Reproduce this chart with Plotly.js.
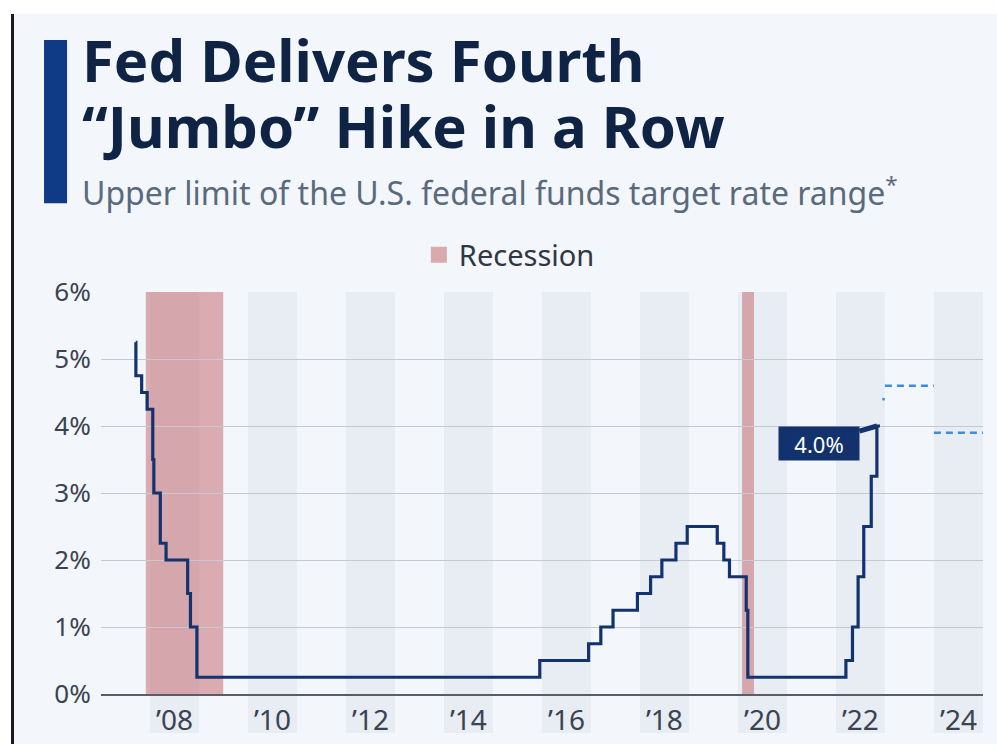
<!DOCTYPE html>
<html>
<head>
<meta charset="utf-8">
<script src="https://cdn.plot.ly/plotly-3.0.1.min.js"></script>
<style>
  html, body { margin: 0; padding: 0; background: #ffffff; width: 997px; height: 744px; overflow: hidden; }
  #frame { position: absolute; left: 11px; top: 14px; width: 986px; height: 730px; border-left: 3px solid #1a1a1a; background: #f3f6fa; }
  #chart { position: absolute; left: 0px; top: 0px; width: 983px; height: 730px; }
</style>
</head>
<body>
<div id="frame"><div id="chart"></div></div>
<script>
// ---- Data ----
var rateDates = ['2007-09-17','2007-09-18','2007-10-31','2007-12-11','2008-01-22','2008-01-30','2008-03-18','2008-04-30','2008-10-08','2008-10-29','2008-12-16','2015-12-16','2016-12-14','2017-03-15','2017-06-14','2017-12-13','2018-03-21','2018-06-13','2018-09-26','2018-12-19','2019-07-31','2019-09-18','2019-10-30','2020-03-03','2020-03-15','2022-03-16','2022-05-04','2022-06-15','2022-07-27','2022-09-21','2022-11-02','2022-11-25'];
var rateValues = [5.25,4.75,4.5,4.25,3.5,3.0,2.25,2.0,1.5,1.0,0.25,0.5,0.75,1.0,1.25,1.5,1.75,2.0,2.25,2.5,2.25,2.0,1.75,1.25,0.25,0.5,1.0,1.75,2.5,3.25,4.0,4.0];

var projDates = ['2022-12-12','2022-12-31',null,'2023-01-01','2023-12-31',null,'2024-01-01','2024-12-31'];
var projValues = [4.4,4.4,null,4.6,4.6,null,3.9,3.9];

var recessionStarts = ['2007-12-01','2020-02-01'];
var recessionEnds = ['2009-06-30','2020-04-30'];

var shadedYears = [2008,2010,2012,2014,2016,2018,2020,2022,2024];

var tickYears = [2008,2010,2012,2014,2016,2018,2020,2022,2024];
var tickLabels = ['\u201908','\u201910','\u201912','\u201914','\u201916','\u201918','\u201920','\u201922','\u201924'];

var yTicks = [0,1,2,3,4,5,6];
var yTickLabels = ['0%','1%','2%','3%','4%','5%','6%'];

var titleLine1 = 'Fed Delivers Fourth';
var titleLine2 = '\u201cJumbo\u201d Hike in a Row';
var subtitleText = 'Upper limit of the U.S. federal funds target rate range<sup>*</sup>';
var lastLabel = '4.0%';

// ---- Build ----
var FONT = 'Noto Sans, Open Sans, sans-serif';
var shapes = [];
shadedYears.forEach(function (y) {
  shapes.push({type: 'rect', layer: 'below', xref: 'x', yref: 'paper',
    x0: y + '-01-01', x1: (y + 1) + '-01-01', y0: -0.097, y1: 1,
    fillcolor: '#e8edf4', line: {width: 0}});
});
recessionStarts.forEach(function (s, i) {
  shapes.push({type: 'rect', layer: 'below', xref: 'x', yref: 'paper',
    x0: s, x1: recessionEnds[i], y0: 0, y1: 1,
    fillcolor: 'rgba(196,110,115,0.55)', line: {width: 0}});
});
// title accent bar
shapes.push({type: 'rect', xref: 'paper', yref: 'paper',
  x0: -0.0646, x1: -0.0385, y0: 1.221, y1: 1.627,
  fillcolor: '#0f3b86', line: {width: 0}});

var traces = [
  {x: [null], y: [null], type: 'scatter', mode: 'markers', name: 'Recession',
   marker: {symbol: 'square', size: 16, color: '#d8aaad'}, hoverinfo: 'skip'},
  {x: projDates, y: projValues, type: 'scatter', mode: 'lines', showlegend: false,
   connectgaps: false, line: {color: '#3b8ee2', width: 2.5, dash: '7px,5px'}},
  {x: rateDates, y: rateValues, type: 'scatter', mode: 'lines', showlegend: false,
   line: {color: '#13336f', width: 3.2, shape: 'hv'}}
];

var layout = {
  width: 983, height: 730,
  margin: {l: 87, r: 14, t: 278, b: 50},
  paper_bgcolor: '#f3f6fa', plot_bgcolor: 'rgba(0,0,0,0)',
  font: {family: FONT, color: '#3b4350'},
  title: {
    text: '<b>' + titleLine1 + '</b>',
    xref: 'container', yref: 'container', x: 0.0692, xanchor: 'left',
    y: 0.934, yanchor: 'middle',
    font: {family: FONT, size: 58, color: '#0f2444'}
  },
  showlegend: true,
  legend: {orientation: 'h', x: 0.463, xanchor: 'center', y: 1.092, yanchor: 'middle',
    font: {size: 29, color: '#2f3744'}, bgcolor: 'rgba(0,0,0,0)'},
  xaxis: {
    type: 'date', range: ['2007-01-01', '2025-01-01'],
    tickvals: tickYears.map(function (y) { return y + '-07-02'; }),
    ticktext: tickLabels,
    showgrid: false, zeroline: false,
    showline: true, linecolor: '#5a5e64', linewidth: 1.5,
    ticks: 'outside', ticklen: 1, tickcolor: 'rgba(0,0,0,0)',
    tickfont: {size: 28, color: '#3b4350'}, fixedrange: true
  },
  yaxis: {
    range: [0, 6], tickvals: yTicks, ticktext: yTickLabels,
    showgrid: true, gridcolor: '#c6cad0', gridwidth: 1, zeroline: false,
    ticks: 'outside', ticklen: 4, tickcolor: 'rgba(0,0,0,0)',
    tickfont: {size: 26, color: '#3b4350'}, fixedrange: true
  },
  shapes: shapes,
  annotations: [
    {xref: 'paper', yref: 'paper', x: -0.0238, y: 1.413, xanchor: 'left', yanchor: 'middle',
     text: '<b>' + titleLine2 + '</b>', showarrow: false,
     font: {family: FONT, size: 58, color: '#0f2444'}},
    {xref: 'paper', yref: 'paper', x: -0.0238, y: 1.252, xanchor: 'left', yanchor: 'middle',
     text: subtitleText,
     showarrow: false, font: {family: FONT, size: 32, color: '#5a6a7e'}},
    {x: rateDates[rateDates.length - 2], y: rateValues[rateValues.length - 2],
     text: lastLabel, showarrow: true, arrowhead: 0, arrowwidth: 5, arrowcolor: '#12316d',
     ax: -58, ay: 17, bgcolor: '#12316d', width: 72, height: 25, borderpad: 4,
     font: {family: FONT, size: 22, color: '#ffffff'}}
  ]
};

Plotly.newPlot('chart', traces, layout, {displayModeBar: false, staticPlot: true});
</script>
</body>
</html>
